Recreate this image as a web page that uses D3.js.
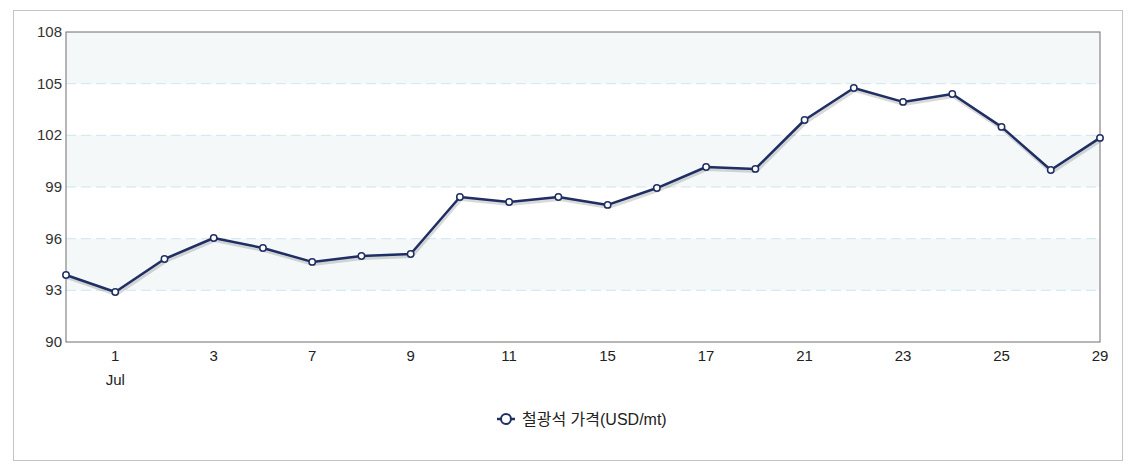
<!DOCTYPE html>
<meta charset="utf-8">
<style>
  body { margin: 0; background: #fff; font-family: Arial, "Liberation Sans", sans-serif; }
  #frame { position: absolute; left: 13px; top: 10px; width: 1108px; height: 449px; border: 1px solid #c4c4c4; }
</style>
<div id="frame"></div>
<svg id="chart" width="1133" height="464" style="position:absolute;left:0;top:0"></svg>
<script src="https://cdn.jsdelivr.net/npm/d3@7"></script>
<script>
var labels = ['', '1', '', '3', '', '7', '', '9', '', '11', '', '15', '', '17', '', '21', '', '23', '', '25', '', '29'];
var prices = [93.89, 92.9, 94.82, 96.04, 95.46, 94.65, 94.99, 95.11, 98.42, 98.13, 98.42, 97.96,
  98.94, 100.16, 100.05, 102.89, 104.75, 103.94, 104.4, 102.49, 99.99, 101.85];
var yTicks = [90, 93, 96, 99, 102, 105, 108];
var seriesName = '철광석 가격(USD/mt)';

var svg = d3.select('#chart');
var L = 66, R = 1100, T = 32, B = 342;
var x = d3.scaleLinear().domain([0, prices.length - 1]).range([L, R]);
var y = d3.scaleLinear().domain([90, 108]).range([B, T]);

// alternating bands
for (var i = 0; i < yTicks.length - 1; i++) {
  if (i % 2 === 1) {
    svg.append('rect').attr('x', L).attr('width', R - L)
      .attr('y', y(yTicks[i + 1])).attr('height', y(yTicks[i]) - y(yTicks[i + 1]))
      .attr('fill', '#f4f8f9');
  }
}
svg.selectAll('line.grid').data(yTicks.slice(1, -1)).enter().append('line')
  .attr('x1', L).attr('x2', R).attr('y1', d => y(d)).attr('y2', d => y(d))
  .attr('stroke', '#cfe6ef').attr('stroke-dasharray', '10,5');

svg.append('rect').attr('x', L).attr('y', T).attr('width', R - L).attr('height', B - T)
  .attr('fill', 'none').attr('stroke', '#6f6f6f');

svg.selectAll('text.yt').data(yTicks).enter().append('text')
  .attr('x', L - 4).attr('y', d => y(d) + 5).attr('text-anchor', 'end')
  .attr('font-size', 15).attr('fill', '#333').text(d => d);

svg.selectAll('text.xt').data(labels).enter().append('text')
  .attr('x', (d, i) => x(i)).attr('y', B + 19).attr('text-anchor', 'middle')
  .attr('font-size', 15).attr('fill', '#222').text(d => d);
svg.append('text').attr('x', x(1)).attr('y', B + 43).attr('text-anchor', 'middle')
  .attr('font-size', 15).attr('fill', '#222').text('Jul');

var line = d3.line().x((d, i) => x(i)).y(d => y(d));
svg.append('path').datum(prices).attr('d', line).attr('fill', 'none')
  .attr('stroke', 'rgba(0,0,0,0.15)').attr('stroke-width', 4).attr('transform', 'translate(1,2)');
svg.append('path').datum(prices).attr('d', line).attr('fill', 'none')
  .attr('stroke', '#1f2e63').attr('stroke-width', 2.5).attr('stroke-linejoin', 'round');
svg.selectAll('circle.pt').data(prices).enter().append('circle')
  .attr('cx', (d, i) => x(i)).attr('cy', d => y(d)).attr('r', 3.2)
  .attr('fill', '#fff').attr('stroke', '#1f2e63').attr('stroke-width', 1.5);

// legend
var lg = svg.append('g').attr('transform', 'translate(506,419)');
lg.append('line').attr('x1', -9).attr('x2', 9).attr('stroke', '#1f2e63').attr('stroke-width', 2.5);
lg.append('circle').attr('r', 5).attr('fill', '#fff').attr('stroke', '#1f2e63').attr('stroke-width', 2);
lg.append('text').attr('x', 16).attr('y', 6).attr('font-size', 16).attr('fill', '#222')
  .attr('font-family', 'Arial, "Noto Sans CJK KR", sans-serif').text(seriesName);
</script>
